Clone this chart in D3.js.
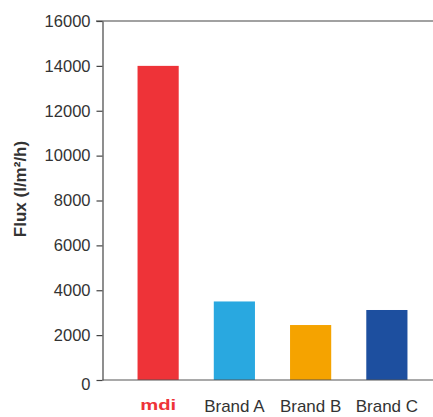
<!DOCTYPE html>
<html>
<head>
<meta charset="utf-8">
<script src="https://cdn.jsdelivr.net/npm/d3@7"></script>
<style>
  body { margin: 0; background: #fff; }
  svg { display: block; }
</style>
</head>
<body>
<svg id="chart"></svg>
<script>
var width = 433, height = 417;
var brands = ["mdi", "Brand A", "Brand B", "Brand C"];
var flux = [14000, 3500, 2450, 3120];
var colors = ["#ee3338", "#29a8e0", "#f5a300", "#1d4f9f"];
var yTicks = [0, 2000, 4000, 6000, 8000, 10000, 12000, 14000, 16000];

var svg = d3.select("#chart").attr("width", width).attr("height", height)
    .style("font-family", "'Liberation Sans', Arial, sans-serif");

var x = d3.scaleBand()
    .domain(brands)
    .range([120, 425])
    .paddingInner(0.46)
    .paddingOuter(0.23);

var y = d3.scaleLinear()
    .domain([0, 16000])
    .range([380, 21]);

// y axis
var yAxis = svg.append("g")
    .attr("transform", "translate(102.5,0)")
    .call(d3.axisLeft(y).tickValues(yTicks).tickFormat(d3.format("d"))
        .tickSize(6).tickPadding(6).tickSizeOuter(0));
yAxis.attr("font-family", null).attr("font-size", null);
yAxis.select(".domain").attr("stroke", "#444").attr("stroke-width", 1.2);
yAxis.selectAll(".tick line").attr("stroke", "#444").attr("stroke-width", 1.2);
yAxis.selectAll(".tick text")
    .attr("fill", "#333")
    .style("font-size", "16.5px")
    .attr("dy", function (d) { return d === 0 ? "0.55em" : "0.32em"; });

// top border line
svg.append("line")
    .attr("x1", 96).attr("x2", width)
    .attr("y1", y(16000)).attr("y2", y(16000))
    .attr("stroke", "#444").attr("stroke-width", 1.2);

// bars
svg.selectAll("rect.bar")
    .data(brands)
    .enter().append("rect")
    .attr("class", "bar")
    .attr("x", function (d) { return x(d); })
    .attr("width", x.bandwidth())
    .attr("y", function (d, i) { return y(flux[i]); })
    .attr("height", function (d, i) { return y(0) - y(flux[i]); })
    .attr("fill", function (d, i) { return colors[i]; });

// x axis baseline
svg.append("line")
    .attr("x1", 102.5).attr("x2", width)
    .attr("y1", y(0)).attr("y2", y(0))
    .attr("stroke", "#555").attr("stroke-width", 1.2);

// x labels
svg.selectAll("text.xlab")
    .data(brands)
    .enter().append("text")
    .attr("class", "xlab")
    .attr("x", function (d) { return x(d) + x.bandwidth() / 2; })
    .attr("y", function (d) { return d === "mdi" ? 410 : 412; })
    .attr("text-anchor", "middle")
    .attr("fill", function (d) { return d === "mdi" ? "#ee3338" : "#333"; })
    .style("font-size", function (d) { return d === "mdi" ? "14.5px" : "17px"; })
    .style("font-weight", function (d) { return d === "mdi" ? "bold" : "normal"; })
    .each(function (d) {
        if (d === "mdi") {
            d3.select(this).attr("textLength", 36).attr("lengthAdjust", "spacingAndGlyphs");
        }
    })
    .text(function (d) { return d; });

// y label
svg.append("text")
    .attr("transform", "translate(26,189) rotate(-90)")
    .attr("text-anchor", "middle")
    .attr("fill", "#333")
    .style("font-size", "17px")
    .style("font-weight", "bold")
    .text("Flux (l/m²/h)");
</script>
</body>
</html>
